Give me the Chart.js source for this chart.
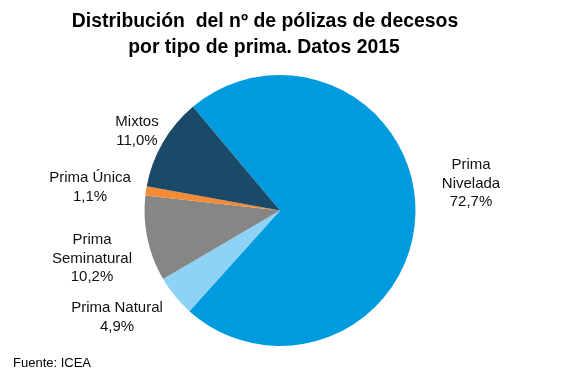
<!DOCTYPE html>
<html><head><meta charset="utf-8">
<script src="https://cdn.jsdelivr.net/npm/chart.js@4"></script>
<style>html,body{margin:0;padding:0;background:#fff}#c{display:block}</style>
</head><body>
<canvas id="c" width="567" height="378"></canvas>
<script>
const categories = ["Prima Nivelada", "Prima Natural", "Prima Seminatural", "Prima Única", "Mixtos"];
const values = [72.7, 4.9, 10.2, 1.1, 11.0];
const labelLines = [["Prima", "Nivelada"], ["Prima Natural"], ["Prima", "Seminatural"], ["Prima Única"], ["Mixtos"]];
const colors = ["#009BDE", "#8ED3F6", "#868686", "#F58B35", "#1B4A69"];
// label block centre offsets from the pie centre (text layout only)
const labelOffsets = [[191, -27], [-163, 107], [-188, 48], [-190, -23], [-143, -79]];
const titleLines = ["Distribución  del nº de pólizas de decesos", "por tipo de prima. Datos 2015"];
const source = "Fuente: ICEA";

const textPlugin = {
  id: 'texts',
  afterDraw(chart) {
    const ctx = chart.ctx;
    ctx.save();
    ctx.fillStyle = '#000';
    ctx.textAlign = 'center';
    ctx.textBaseline = 'middle';
    ctx.font = 'bold 19.4px "Liberation Sans", Arial, sans-serif';
    ctx.fillText(titleLines[0], 265, 22);
    ctx.fillText(titleLines[1], 264, 48);
    const meta = chart.getDatasetMeta(0);
    const arc0 = meta.data[0];
    const cx = arc0.x, cy = arc0.y;
    ctx.font = '15px "Liberation Sans", Arial, sans-serif';
    ctx.fillStyle = '#111';
    meta.data.forEach((arc, i) => {
      const lines = labelLines[i].concat([values[i].toFixed(1).replace('.', ',') + '%']);
      const lh = 18.5;
      const x = cx + labelOffsets[i][0];
      const y0 = cy + labelOffsets[i][1] - (lines.length - 1) * lh / 2;
      lines.forEach((t, j) => ctx.fillText(t, x, y0 + j * lh));
    });
    ctx.textAlign = 'left';
    ctx.font = '13px "Liberation Sans", Arial, sans-serif';
    ctx.fillStyle = '#000';
    ctx.fillText(source, 13, 363);
    ctx.restore();
  }
};

new Chart(document.getElementById('c'), {
  type: 'pie',
  data: {
    labels: categories,
    datasets: [{ data: values, backgroundColor: colors, borderWidth: 0 }]
  },
  options: {
    responsive: false,
    animation: false,
    rotation: -40,
    layout: { padding: { top: 75, bottom: 32, left: 0, right: 7 } },
    plugins: { legend: { display: false }, title: { display: false }, tooltip: { enabled: false } }
  },
  plugins: [textPlugin]
});
</script>
</body></html>
